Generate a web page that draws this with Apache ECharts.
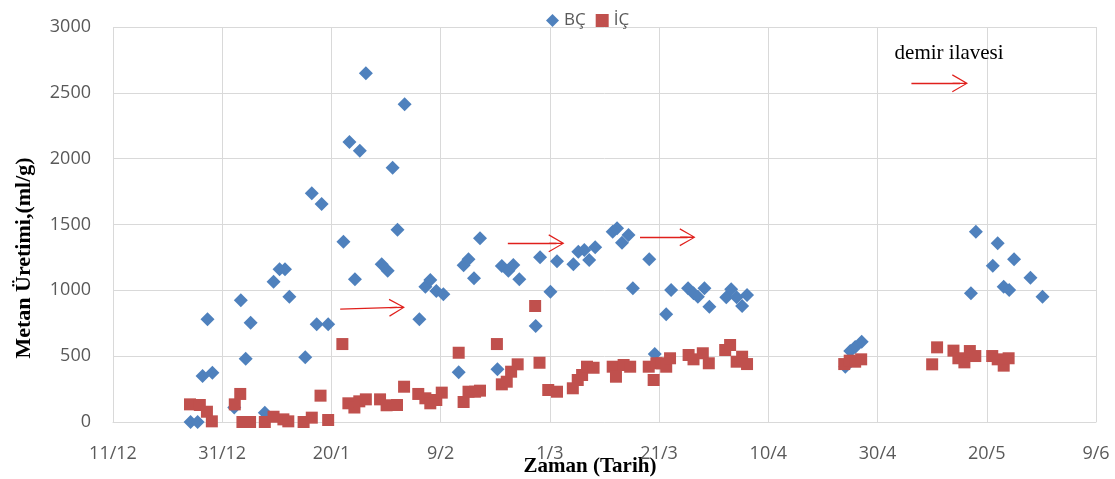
<!DOCTYPE html>
<html>
<head>
<meta charset="utf-8">
<script src="https://cdn.jsdelivr.net/npm/echarts@6/dist/echarts.min.js"></script>
<style>html,body{margin:0;padding:0;background:#fff}#c{width:1115px;height:479px}</style>
</head>
<body>
<div id="c"></div>
<script>
// Days counted from 11/12
const xTickLabels = ['11/12','31/12','20/1','9/2','1/3','21/3','10/4','30/4','20/5','9/6'];
const yTicks = [0, 500, 1000, 1500, 2000, 2500, 3000];

const bcDays = [14.2,15.5,16.4,17.3,18.2,22.2,23.4,24.3,25.2,27.8,29.4,30.5,31.5,32.3,35.2,36.4,37.3,38.2,39.4,
  42.2,43.3,44.3,45.2,46.3,49.2,50.3,51.2,52.1,53.4,56.1,57.2,58.1,59.2,60.5,63.3,64.2,65.1,66.1,67.2,
  70.4,71.2,72.4,73.3,74.4,77.4,78.2,80.1,81.3,84.3,85.2,86.3,87.2,88.3,91.5,92.3,93.2,94.4,95.2,98.2,99.2,
  101.3,102.2,105.3,106.3,107.1,108.3,109.2,112.3,113.2,114.2,115.2,116.1,134.1,135.0,135.9,137.1,
  157.1,158.0,161.1,162.0,163.1,164.1,165.0,168.0,170.2];
const bcValues = [0,0,350,780,375,110,924,481,754,70,1066,1160,1160,952,491,1737,742,1656,742,
  1369,2127,1084,2061,2648,1198,1148,1931,1460,2413,780,1028,1078,995,970,377,1190,1237,1091,1395,
  400,1185,1149,1192,1084,729,1251,990,1220,1198,1293,1306,1230,1327,1445,1471,1362,1420,1015,1236,516,
  818,1003,1015,977,952,1015,876,947,1008,947,881,965,420,540,570,610,
  977,1445,1187,1357,1028,1003,1236,1096,952];

const icDays = [14.1,15.9,17.2,18.1,22.3,23.3,23.7,25.1,27.8,29.4,31.2,32.1,34.9,36.4,38.0,39.4,
  42.0,43.1,44.2,45.1,46.3,48.9,50.1,52.0,53.3,55.9,57.2,58.1,59.2,60.2,63.3,64.2,65.1,66.3,67.2,
  70.3,71.2,72.1,72.9,74.1,77.3,78.1,79.7,81.3,84.2,85.1,85.9,86.8,88.0,91.5,92.1,93.5,94.7,98.1,99.0,
  99.5,100.5,101.3,102.0,105.4,106.3,108.0,109.1,112.1,113.0,114.2,115.2,116.1,133.9,134.9,135.9,137.0,
  150.0,150.9,153.9,154.8,155.9,156.9,157.9,161.0,162.0,163.1,164.0];
const icValues = [134,129,78,5,134,213,0,0,0,40,20,5,0,33,200,15,
  592,142,110,157,172,172,127,129,268,213,180,142,167,223,526,152,230,230,238,
  592,286,306,382,438,881,450,243,230,256,319,357,420,412,420,344,433,420,420,319,
  446,446,420,484,509,476,522,446,547,585,458,496,440,440,466,458,476,
  438,567,542,484,453,539,501,501,476,428,484];

// annotation arrows: [startDay, startValue, endDay, endValue]
const arrows = [[41.6,858,52.0,870],[72.3,1357,81.2,1357],[96.5,1403,105.2,1403],[146.2,2572,155.1,2572]];
const note = {text: 'demir ilavesi', day: 153.1, value: 2802};

const pair = (xs, ys) => xs.map((x, i) => [x, ys[i]]);
const chevron = 'path://M9,0L18,16L16.8,16.6L9.65,3.4L9.65,16L8.35,16L8.35,3.4L1.2,16.6L0,16Z';

const chart = echarts.init(document.getElementById('c'));
const gridColor = '#d9d9d9';
const tickFont = {color: '#595959', fontSize: 18, fontFamily: 'Open Sans'};

chart.setOption({
  animation: false,
  legend: {
    top: 7, left: 541, itemWidth: 13, itemHeight: 13, itemGap: 10,
    textStyle: {color: '#595959', fontSize: 17, fontFamily: 'Open Sans'},
    data: ['BÇ', 'İÇ']
  },
  grid: {left: 113, top: 27, right: 19, bottom: 57, containLabel: false},
  xAxis: {
    type: 'value', min: 0, max: 180, interval: 20,
    axisLine: {show: true, lineStyle: {color: gridColor}},
    axisTick: {show: false},
    splitLine: {show: true, lineStyle: {color: gridColor, width: 1}},
    axisLabel: Object.assign({margin: 23, formatter: v => xTickLabels[Math.round(v / 20)] || ''}, tickFont)
  },
  yAxis: {
    type: 'value', min: yTicks[0], max: yTicks[yTicks.length - 1], interval: 500,
    axisLine: {show: false}, axisTick: {show: false},
    splitLine: {show: true, lineStyle: {color: gridColor, width: 1}},
    axisLabel: Object.assign({margin: 22, formatter: v => String(v)}, tickFont)
  },
  graphic: [
    {type: 'text', x: 24, y: 258, rotation: Math.PI / 2,
     style: {text: 'Metan Üretimi,(ml/g)', fill: '#000', font: 'bold 22px "Liberation Serif"', align: 'center', verticalAlign: 'middle'}},
    {type: 'text', x: 590, y: 467,
     style: {text: 'Zaman (Tarih)', fill: '#000', font: 'bold 21px "Liberation Serif"', align: 'center', verticalAlign: 'middle'}}
  ],
  series: [
    {
      name: 'BÇ', type: 'scatter', symbol: 'diamond', symbolSize: 14,
      itemStyle: {color: '#4f81bd', opacity: 1},
      data: pair(bcDays, bcValues), z: 2
    },
    {
      name: 'İÇ', type: 'scatter', symbol: 'rect', symbolSize: 12,
      itemStyle: {color: '#c0504d', opacity: 1},
      data: pair(icDays, icValues), z: 3,
      markLine: {
        silent: true, animation: false,
        symbol: ['none', chevron], symbolSize: [18, 16],
        lineStyle: {color: '#e0201c', width: 1.3, type: 'solid'},
        label: {show: false},
        data: arrows.map(a => [{coord: [a[0], a[1]]}, {coord: [a[2], a[3]]}])
      },
      markPoint: {
        silent: true, animation: false, symbol: 'rect', symbolSize: 0,
        label: {show: true, position: 'inside', formatter: note.text, color: '#000', fontSize: 21, fontFamily: 'Liberation Serif'},
        data: [{coord: [note.day, note.value]}]
      }
    }
  ]
});
</script>
</body>
</html>
